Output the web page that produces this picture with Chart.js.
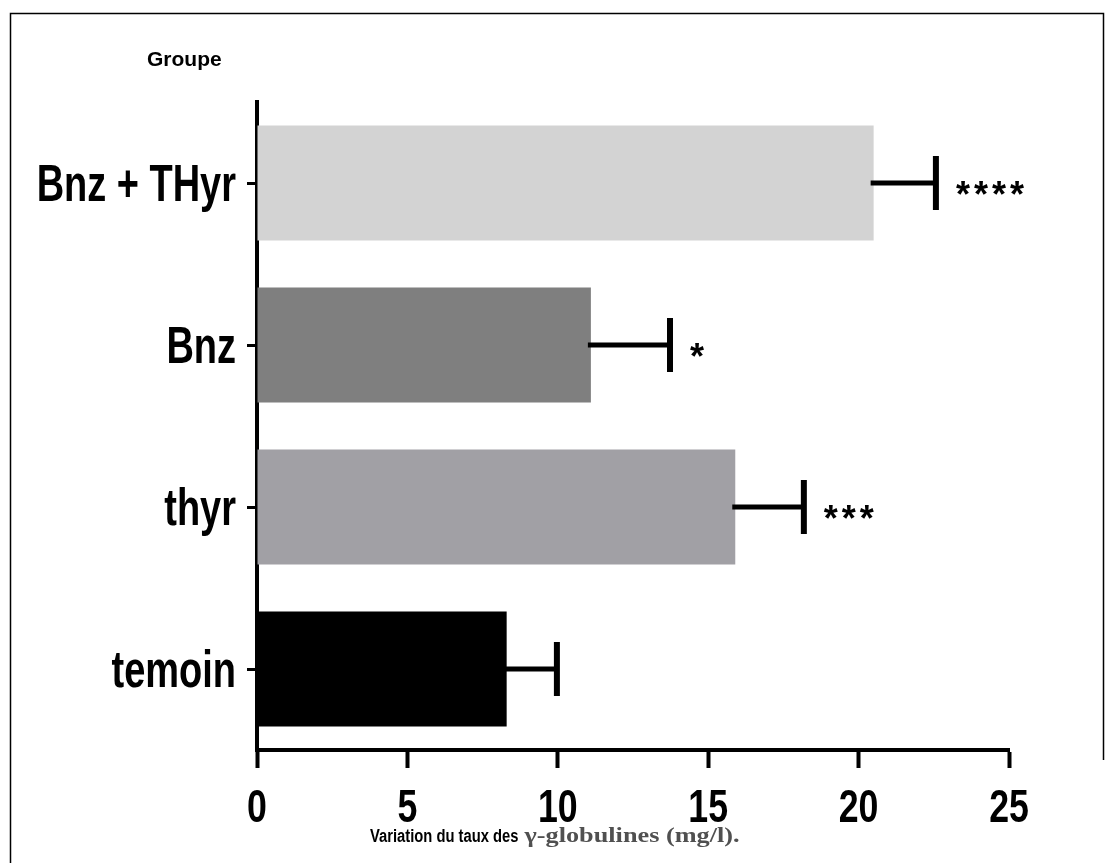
<!DOCTYPE html>
<html>
<head>
<meta charset="utf-8">
<script src="https://cdn.jsdelivr.net/npm/chart.js@4"></script>
<style>
    html, body { margin: 0; padding: 0; background: #fff; }
    #wrap { width: 1114px; height: 863px; }
</style>
</head>
<body>
<div id="wrap"><canvas id="gammaChart" width="1114" height="863"></canvas></div>
<script>
// Groups, top to bottom
const groups = ['Bnz + THyr', 'Bnz', 'thyr', 'temoin'];
// Mean variation of gamma-globulins (mg/l)
const means = [20.5, 11.1, 15.9, 8.3];
// Upper error (SEM) for each group
const errors = [2.07, 2.63, 2.28, 1.67];
// Significance stars
const stars = ['****', '*', '***', ''];
const barColors = ['#d3d3d3', '#7f7f7f', '#a1a0a5', '#000000'];
const xTicks = [0, 5, 10, 15, 20, 25];

const sans = '"Liberation Sans", Arial, sans-serif';

// Condensed bold text (no narrow face installed, so squeeze it)
function drawNarrow(ctx, text, x, y, align, size, squeeze) {
    ctx.save();
    ctx.font = 'bold ' + size + 'px ' + sans;
    ctx.textAlign = align;
    ctx.textBaseline = 'alphabetic';
    ctx.translate(x, y);
    ctx.scale(squeeze, 1);
    ctx.fillText(text, 0, 0);
    ctx.restore();
}

/**
 * Tick labels, error bars, stars, titles and the outer frame
 */
const decorations = {
    id: 'decorations',
    afterDraw(chart) {
        const ctx = chart.ctx;
        const xs = chart.scales.x;
        const ys = chart.scales.y;
        const area = chart.chartArea;

        ctx.save();
        ctx.fillStyle = '#000';

        // category labels
        ys.ticks.forEach((t, i) => {
            const y = ys.getPixelForTick(i);
            drawNarrow(ctx, ys.getLabelForValue(t.value), area.left - 21, y + 18, 'right', 52, 0.73);
        });

        // value labels
        xs.ticks.forEach((t, i) => {
            const x = xs.getPixelForTick(i);
            drawNarrow(ctx, String(t.value), x, area.bottom + 72, 'center', 47, 0.76);
        });

        ctx.strokeStyle = '#000';
        groups.forEach((g, i) => {
            const y = ys.getPixelForValue(i);
            const x0 = xs.getPixelForValue(means[i]) - 3;
            const x1 = xs.getPixelForValue(means[i] + errors[i]);

            // whisker
            ctx.lineWidth = 5;
            ctx.beginPath();
            ctx.moveTo(x0, y);
            ctx.lineTo(x1, y);
            ctx.stroke();

            // cap
            ctx.lineWidth = 6;
            ctx.beginPath();
            ctx.moveTo(x1, y - 27);
            ctx.lineTo(x1, y + 27);
            ctx.stroke();

            // stars
            if (stars[i]) {
                ctx.font = 'bold 36px ' + sans;
                ctx.letterSpacing = '4px';
                ctx.textAlign = 'left';
                ctx.textBaseline = 'alphabetic';
                ctx.fillText(stars[i], x1 + 20, y + 24);
                ctx.letterSpacing = '0px';
            }
        });

        // group header
        ctx.font = 'bold 21px ' + sans;
        ctx.textAlign = 'left';
        ctx.textBaseline = 'alphabetic';
        ctx.fillText('Groupe', 147, 66);

        // x axis title, two fonts
        const part1 = 'Variation du taux des ';
        const part2 = 'γ-globulines (mg/l).';
        ctx.font = 'bold 18px ' + sans;
        const w1 = ctx.measureText(part1).width * 0.82;
        drawNarrow(ctx, part1, 370, 842, 'left', 18, 0.82);
        ctx.font = 'bold 20px "Liberation Serif", "Times New Roman", serif';
        const w2 = ctx.measureText(part2).width;
        ctx.save();
        ctx.fillStyle = '#505050';
        ctx.translate(372 + w1, 842);
        ctx.scale(215 / w2, 1);
        ctx.fillText(part2, 0, 0);
        ctx.restore();

        // frame
        ctx.lineWidth = 1.5;
        ctx.beginPath();
        ctx.moveTo(10.5, 863);
        ctx.lineTo(10.5, 13.5);
        ctx.lineTo(1103.5, 13.5);
        ctx.lineTo(1103.5, 760);
        ctx.stroke();
        ctx.restore();
    }
};

new Chart(document.getElementById('gammaChart'), {
    type: 'bar',
    data: {
        labels: groups,
        datasets: [{
            data: means,
            backgroundColor: barColors,
            borderWidth: 0,
            categoryPercentage: 1,
            barPercentage: 0.71
        }]
    },
    options: {
        indexAxis: 'y',
        responsive: false,
        animation: false,
        layout: {
            padding: { top: 102, right: 105, left: 0, bottom: 0 }
        },
        plugins: {
            legend: { display: false },
            tooltip: { enabled: false }
        },
        scales: {
            x: {
                type: 'linear',
                min: 0,
                max: 25,
                afterFit: function(scale) { scale.height = 113; },
                afterBuildTicks: function(scale) {
                    scale.ticks = xTicks.map(v => ({ value: v }));
                },
                border: { display: true, color: '#000', width: 4 },
                grid: {
                    drawOnChartArea: false,
                    drawTicks: true,
                    tickLength: 18,
                    tickWidth: 4,
                    tickColor: '#000'
                },
                ticks: {
                    color: 'rgba(0,0,0,0)',
                    font: { family: sans, size: 47, weight: 'bold' }
                }
            },
            y: {
                afterFit: function(scale) { scale.width = 257; },
                border: { display: true, color: '#000', width: 4 },
                grid: {
                    offset: false,
                    drawOnChartArea: false,
                    drawTicks: true,
                    tickLength: 10,
                    tickWidth: 3,
                    tickColor: '#000'
                },
                ticks: {
                    color: 'rgba(0,0,0,0)',
                    font: { family: sans, size: 48, weight: 'bold' }
                }
            }
        }
    },
    plugins: [decorations]
});
</script>
</body>
</html>
